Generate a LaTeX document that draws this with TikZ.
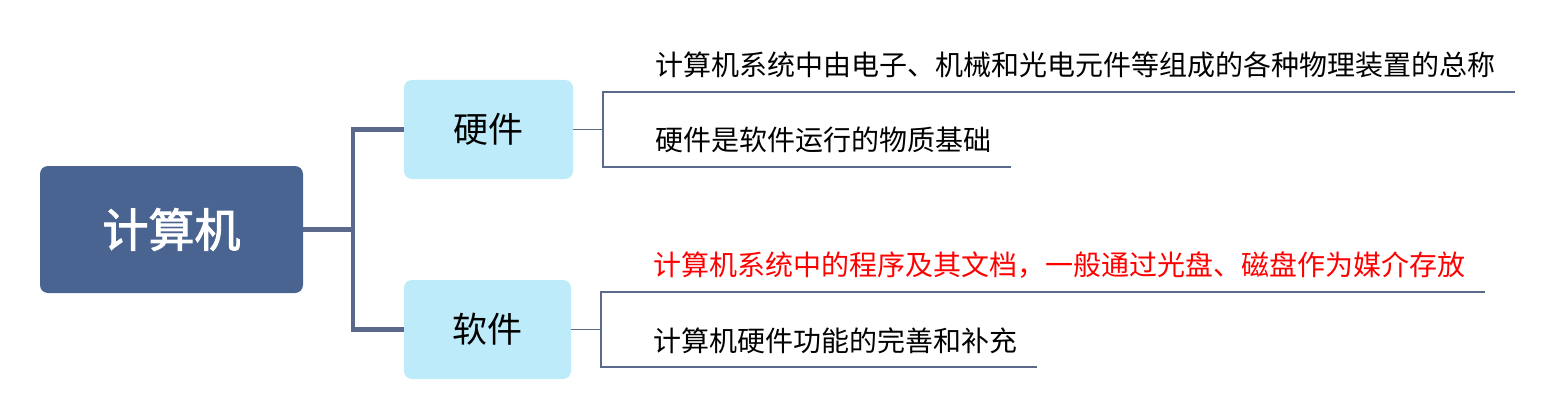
\documentclass[tikz,border=0pt]{standalone}
\usepackage{fontspec}
\newfontfamily\cjk{Noto Sans CJK SC}
\newfontfamily\cjkb[FakeBold=2]{Noto Sans CJK SC}
\definecolor{rootc}{HTML}{4A6491}
\definecolor{boxc}{HTML}{BDEBFA}
\definecolor{linec}{HTML}{5B6A8A}
\begin{document}
\begin{tikzpicture}[x=1pt,y=-1pt,
  rootbox/.style={fill=rootc,rounded corners=8pt,text=white,font=\cjkb\fontsize{46}{50}\selectfont,inner sep=0pt},
  subbox/.style={fill=boxc,rounded corners=8pt,font=\cjk\fontsize{35}{38}\selectfont,inner sep=0pt},
  leaf/.style={anchor=west,font=\cjk\fontsize{28}{30}\selectfont,inner sep=0pt},
  thick/.style={draw=linec,line width=4.5pt},
  thin/.style={draw=linec,line width=1.3pt}]
\useasboundingbox (0,0) rectangle (1556,420);
\node[rootbox,minimum width=263pt,minimum height=127pt] (root) at (171.5,229.5) {计算机};
\node[subbox,minimum width=169pt,minimum height=99pt] (hw) at (488.5,129.5) {硬件};
\node[subbox,minimum width=167pt,minimum height=99pt] (sw) at (487.5,329.5) {软件};
\coordinate (j) at (353,229.5);
\draw[thick] (root.east) -- (j) |- (hw.west);
\draw[thick] (j) |- (sw.west);
\node[leaf] (h1) at (655,65) {计算机系统中由电子、机械和光电元件等组成的各种物理装置的总称};
\node[leaf] (h2) at (655,140) {硬件是软件运行的物质基础};
\node[leaf,text=red] (s1) at (653,265) {计算机系统中的程序及其文档，一般通过光盘、磁盘作为媒介存放};
\node[leaf] (s2) at (653,341) {计算机硬件功能的完善和补充};
\coordinate (hj) at (603,129.5);
\coordinate (h1a) at (603,92); \coordinate (h1b) at (1515,92);
\coordinate (h2a) at (603,167); \coordinate (h2b) at (1011,167);
\draw[thin] (hw.east) -- (hj);
\draw[thin] (h1b) -- (h1a) -- (h2a) -- (h2b);
\coordinate (sj) at (601,329.5);
\coordinate (s1a) at (601,292); \coordinate (s1b) at (1485,292);
\coordinate (s2a) at (601,367); \coordinate (s2b) at (1037,367);
\draw[thin] (sw.east) -- (sj);
\draw[thin] (s1b) -- (s1a) -- (s2a) -- (s2b);
\end{tikzpicture}
\end{document}
